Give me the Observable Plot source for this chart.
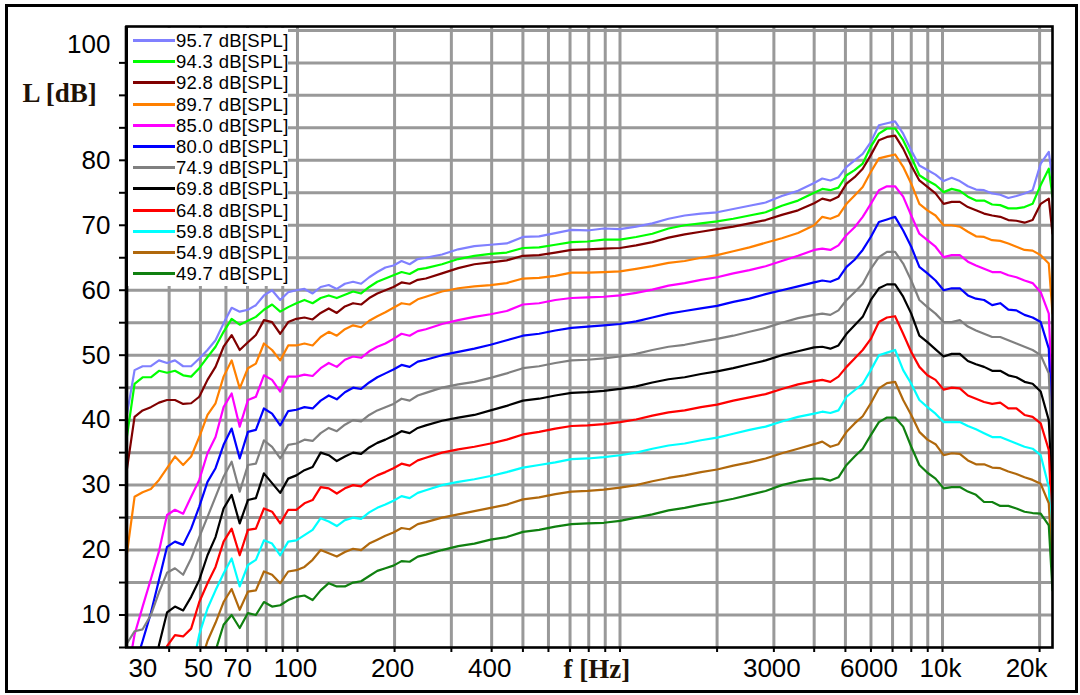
<!DOCTYPE html>
<html><head><meta charset="utf-8">
<script src="https://cdn.jsdelivr.net/npm/d3@7"></script>
<script src="https://cdn.jsdelivr.net/npm/@observablehq/plot@0.6"></script>
<style>
html,body{margin:0;padding:0;background:#fff;}
#wrap{position:relative;width:1080px;height:695px;overflow:hidden;background:#fff;font-family:"Liberation Sans",Arial,sans-serif;}
#chart{position:absolute;left:0;top:0;}
#outer{position:absolute;left:5px;top:4px;width:1073px;height:689px;border:3px solid #000;box-sizing:border-box;pointer-events:none;}
#legend{position:absolute;left:128px;top:28px;width:160px;height:258px;background:#fff;}
.row{position:absolute;left:0;height:21px;display:flex;align-items:center;}
.sw{width:42px;height:3px;margin-left:5px;flex:none;}
.lt{margin-left:1px;font-size:18.5px;color:#000;white-space:nowrap;letter-spacing:0.3px;line-height:21px;}
</style></head><body>
<div id="wrap"><div id="chart"></div><div id="legend"></div><div id="outer"></div></div>
<script>
// ---------- data ----------
const freqs = [
29.5, 31.25, 33.1, 35.1, 37.2, 39.4, 41.7, 44.2, 46.8, 49.6,
52.6, 55.7, 59.0, 62.5, 66.2, 70.2, 74.3, 78.7, 83.4, 88.4,
93.6, 99.2, 105.1, 111.4, 118.0, 125.0, 132.4, 140.3, 148.7, 157.5,
166.9, 176.8, 187.3, 198.4, 210.2, 222.7, 236.0, 250.0,
280.6, 315.0, 353.6, 396.9, 445.4, 500.0, 561.2, 630.0, 707.1, 793.7, 890.9, 1000, 1122, 1260, 1414, 1587, 1782, 2000, 2245, 2520, 2828, 3175, 3564, 4000,
4238, 4490, 4757, 5040, 5339, 5657, 5993, 6350, 6727, 7127, 7551, 8000, 8476, 8980, 9514, 10079, 10679, 11314, 11986, 12699, 13454, 14254, 15102, 16000, 16951, 17959, 19027, 20159, 21357, 21930
];

const spl957 = [
40.5, 47.7, 48.3, 48.3, 49.2, 48.8, 49.2, 48.3, 48.3, 49.5, 50.8, 52.3, 54.9, 57.3, 56.7, 57.0, 57.7, 59.2, 60.0, 58.5, 59.7, 60.0, 60.2, 59.5, 60.5, 60.8, 60.2, 61.0, 61.3, 61.0, 62.0, 62.8, 63.5, 63.8, 64.5, 64.0, 64.8, 65.0,
65.5, 66.3, 66.8, 67.0, 67.2, 68.2, 68.3, 68.8, 69.3, 69.2, 69.5, 69.4, 69.8, 70.3, 71.0, 71.5, 71.8, 72.0, 72.5, 73.0, 73.5, 74.5, 75.3, 76.5,
77.2, 76.9, 77.4, 79.0, 80.0, 81.0, 82.8, 85.4, 85.7, 86.0, 84.1, 81.5, 79.2, 78.5, 77.8, 76.8, 77.3, 76.8, 76.0, 75.5, 75.4, 74.9, 74.7, 74.2, 74.5, 74.9, 75.4, 79.5, 81.3, 76.9
];
const spl943 = [
37.0, 45.6, 46.6, 46.6, 47.6, 47.3, 47.6, 46.9, 46.7, 48.0, 49.7, 51.3, 53.6, 55.6, 54.7, 55.3, 55.9, 57.0, 57.8, 56.7, 57.4, 58.0, 58.5, 58.0, 58.8, 59.2, 58.8, 59.3, 59.8, 59.5, 60.5, 61.3, 61.8, 62.3, 62.8, 62.5, 63.2, 63.4,
64.0, 64.8, 65.3, 65.6, 65.8, 66.5, 66.6, 67.0, 67.4, 67.5, 67.8, 67.8, 68.2, 68.7, 69.5, 70.0, 70.3, 70.6, 71.0, 71.5, 72.0, 73.0, 73.8, 75.0,
75.6, 75.4, 75.8, 77.7, 78.5, 79.5, 82.1, 84.1, 84.9, 84.9, 83.1, 80.5, 77.7, 76.9, 76.2, 75.1, 75.6, 75.3, 74.4, 73.8, 73.8, 73.2, 73.1, 72.6, 72.6, 72.8, 73.3, 76.2, 78.7, 74.4
];
const spl928 = [
32.0, 40.5, 41.5, 42.0, 42.7, 43.1, 43.1, 42.5, 42.6, 43.6, 46.2, 48.2, 51.3, 53.1, 50.8, 52.0, 53.1, 55.4, 55.1, 53.3, 55.1, 55.6, 55.8, 55.5, 56.5, 57.2, 56.5, 57.5, 58.0, 57.8, 58.8, 59.5, 60.0, 60.5, 61.2, 61.0, 61.6, 61.8,
62.6, 63.4, 64.0, 64.3, 64.6, 65.3, 65.4, 65.8, 66.2, 66.3, 66.4, 66.5, 66.9, 67.4, 68.1, 68.6, 69.0, 69.4, 69.8, 70.3, 70.8, 71.6, 72.3, 73.4,
74.1, 73.8, 74.4, 76.4, 77.4, 78.7, 80.8, 83.1, 83.6, 83.8, 81.8, 79.2, 76.9, 75.9, 74.9, 73.3, 73.6, 73.6, 72.8, 72.3, 71.8, 71.5, 71.3, 70.8, 70.7, 70.4, 70.8, 73.3, 74.1, 68.7
];
const spl897 = [
19.0, 28.2, 28.9, 29.4, 30.8, 32.6, 34.4, 33.1, 34.4, 37.4, 40.8, 42.6, 46.7, 49.2, 44.9, 48.0, 48.7, 51.8, 50.8, 49.2, 51.5, 51.5, 51.8, 51.5, 52.8, 53.6, 53.0, 54.0, 54.6, 54.3, 55.3, 56.0, 56.6, 57.3, 58.0, 57.8, 58.6, 59.0,
59.8, 60.3, 60.6, 60.8, 61.1, 61.8, 61.9, 62.2, 62.7, 62.7, 62.8, 62.9, 63.3, 63.7, 64.2, 64.5, 65.0, 65.4, 66.0, 66.6, 67.3, 68.0, 68.8, 70.0,
71.3, 71.0, 71.5, 73.3, 74.6, 75.9, 78.2, 80.3, 80.6, 80.9, 79.0, 76.4, 73.3, 72.3, 71.5, 70.0, 70.0, 69.8, 69.0, 68.3, 68.2, 67.7, 67.6, 67.2, 66.7, 66.2, 66.1, 65.4, 64.1, 56.4
];
const spl850 = [
0.0, 7.0, 11.3, 15.5, 19.8, 25.4, 26.2, 25.6, 28.2, 30.8, 34.9, 37.4, 42.0, 44.1, 39.0, 43.1, 43.6, 46.9, 46.2, 44.4, 46.7, 46.7, 47.0, 46.8, 48.0, 48.8, 48.2, 49.3, 49.8, 49.6, 50.6, 51.3, 51.8, 52.5, 53.3, 53.0, 53.7, 54.0,
54.8, 55.4, 55.9, 56.3, 56.8, 57.8, 58.0, 58.5, 58.8, 58.9, 59.0, 59.2, 59.6, 60.1, 60.7, 61.1, 61.6, 62.0, 62.6, 63.1, 63.7, 64.5, 65.3, 66.2,
66.4, 66.2, 66.9, 68.5, 69.7, 71.3, 73.3, 75.4, 76.0, 76.0, 74.4, 71.5, 68.7, 67.7, 66.7, 65.1, 65.4, 65.4, 64.4, 63.8, 63.3, 62.8, 62.8, 62.3, 62.0, 61.5, 61.1, 59.7, 56.4, 42.0
];
const spl800 = [
null, 2.0, 6.0, 10.3, 15.4, 20.5, 21.3, 20.8, 23.3, 26.7, 30.5, 32.6, 36.2, 38.7, 34.1, 38.2, 38.5, 41.8, 41.0, 39.2, 41.4, 41.6, 42.0, 41.8, 43.0, 43.8, 43.2, 44.3, 45.0, 44.8, 45.8, 46.6, 47.2, 47.8, 48.5, 48.2, 49.0, 49.3,
50.0, 50.5, 51.0, 51.6, 52.3, 53.0, 53.3, 53.8, 54.2, 54.4, 54.6, 54.8, 55.2, 55.8, 56.4, 56.8, 57.2, 57.6, 58.2, 58.7, 59.4, 60.0, 60.6, 61.2,
61.5, 61.3, 61.8, 63.6, 64.7, 66.2, 68.2, 70.5, 70.9, 71.3, 69.2, 66.7, 63.6, 62.6, 61.5, 60.0, 60.3, 60.3, 59.2, 58.7, 58.5, 57.7, 58.0, 57.0, 56.9, 56.2, 55.8, 55.1, 51.0, 36.0
];
const spl749 = [
5.5, 7.5, 7.8, 10.0, 13.5, 16.5, 17.2, 16.2, 18.7, 22.0, 25.1, 28.2, 31.3, 33.6, 29.0, 33.1, 33.3, 36.9, 35.9, 34.1, 36.2, 36.4, 37.0, 36.8, 38.0, 38.8, 38.3, 39.3, 40.0, 39.8, 40.8, 41.5, 42.0, 42.5, 43.3, 43.0, 43.8, 44.2,
45.0, 45.5, 45.9, 46.5, 47.2, 48.0, 48.3, 48.8, 49.2, 49.3, 49.5, 49.8, 50.2, 50.8, 51.3, 51.6, 52.1, 52.5, 53.0, 53.6, 54.2, 55.0, 55.7, 56.2,
56.4, 56.2, 56.9, 58.5, 59.7, 61.0, 63.3, 65.1, 65.9, 65.9, 64.1, 61.5, 58.5, 57.4, 56.4, 55.1, 55.1, 55.4, 54.4, 53.8, 53.3, 52.8, 52.8, 52.3, 51.8, 51.3, 50.8, 50.0, 47.2, 33.0
];
const spl698 = [
null, null, null, -3.0, 5.4, 10.4, 11.3, 10.7, 12.8, 15.4, 19.2, 22.0, 26.4, 28.5, 24.1, 27.7, 28.0, 31.8, 30.3, 28.8, 31.0, 31.5, 32.3, 32.8, 35.0, 34.6, 33.7, 34.4, 35.0, 34.8, 35.8, 36.5, 37.0, 37.6, 38.3, 38.0, 38.8, 39.2,
39.9, 40.4, 40.8, 41.5, 42.2, 43.0, 43.3, 43.8, 44.2, 44.3, 44.5, 44.8, 45.2, 45.8, 46.3, 46.6, 47.1, 47.5, 48.0, 48.6, 49.2, 50.0, 50.6, 51.2,
51.3, 51.0, 51.5, 53.3, 54.6, 55.9, 58.5, 60.3, 60.9, 60.9, 59.0, 56.4, 53.0, 52.0, 50.9, 49.8, 50.2, 50.2, 49.1, 48.6, 48.2, 47.6, 47.6, 46.9, 46.6, 45.9, 45.6, 44.4, 40.0, 27.7
];
const spl648 = [
null, null, null, null, -3.0, 5.2, 6.9, 6.7, 7.9, 12.0, 14.9, 17.4, 21.3, 23.3, 19.2, 23.1, 23.3, 26.4, 25.9, 24.1, 26.2, 26.2, 27.2, 27.7, 29.7, 29.5, 28.7, 29.5, 30.0, 29.8, 30.8, 31.5, 32.0, 32.6, 33.3, 33.0, 33.8, 34.2,
35.0, 35.5, 35.9, 36.4, 37.0, 37.8, 38.2, 38.7, 39.1, 39.2, 39.4, 39.7, 40.1, 40.7, 41.2, 41.5, 42.0, 42.4, 43.0, 43.5, 44.0, 44.8, 45.5, 46.0,
46.2, 45.9, 46.7, 48.2, 49.5, 50.8, 52.5, 55.1, 55.8, 56.0, 53.3, 50.5, 48.2, 46.9, 46.2, 44.7, 45.0, 44.9, 43.8, 43.3, 42.8, 42.5, 42.7, 41.8, 41.8, 40.8, 40.5, 39.5, 35.4, 21.5
];
const spl598 = [
null, null, null, null, null, null, null, null, 1.0, 7.0, 11.0, 13.8, 16.4, 18.7, 14.4, 17.7, 18.5, 21.5, 21.0, 19.2, 21.3, 21.5, 22.3, 23.1, 24.9, 24.4, 23.7, 24.6, 25.0, 24.8, 25.8, 26.5, 27.0, 27.6, 28.3, 28.0, 28.8, 29.2,
30.0, 30.5, 30.9, 31.4, 32.0, 32.7, 33.1, 33.5, 34.0, 34.1, 34.3, 34.6, 35.0, 35.6, 36.1, 36.4, 36.9, 37.3, 37.9, 38.5, 39.0, 39.8, 40.5, 41.0,
41.3, 41.1, 41.5, 43.6, 44.6, 45.6, 47.7, 50.0, 50.4, 50.8, 47.7, 45.6, 43.1, 42.0, 41.0, 39.7, 39.7, 39.7, 39.1, 38.6, 38.0, 37.4, 37.4, 36.9, 36.4, 35.9, 35.6, 34.6, 29.7, 18.5
];
const spl549 = [
null, null, null, null, null, null, null, null, null, 2.0, 6.0, 8.8, 12.0, 14.0, 10.8, 13.6, 13.8, 16.7, 16.2, 14.9, 16.7, 16.9, 17.4, 18.5, 20.0, 19.5, 19.0, 19.7, 20.2, 20.0, 21.0, 21.6, 22.2, 22.7, 23.4, 23.2, 24.0, 24.3,
25.0, 25.5, 26.0, 26.5, 27.0, 27.8, 28.1, 28.6, 29.0, 29.1, 29.3, 29.6, 30.0, 30.6, 31.1, 31.5, 32.0, 32.4, 33.0, 33.5, 34.1, 34.9, 35.6, 36.3,
36.7, 35.9, 36.3, 38.2, 39.5, 40.6, 42.6, 44.9, 45.7, 45.9, 43.1, 40.8, 38.2, 37.0, 36.3, 34.6, 34.9, 34.8, 33.8, 33.2, 33.2, 32.7, 32.6, 32.1, 31.7, 31.2, 30.8, 30.2, 27.2, 16.4
];
const spl497 = [
null, null, null, null, null, null, null, null, null, null, null, 4.5, 8.5, 10.0, 8.0, 10.3, 10.0, 12.0, 11.3, 11.5, 12.3, 12.8, 13.0, 12.3, 13.8, 14.9, 14.4, 14.4, 15.0, 15.2, 16.0, 16.8, 17.2, 17.6, 18.3, 18.2, 19.0, 19.3,
20.0, 20.6, 21.0, 21.6, 22.0, 22.8, 23.1, 23.6, 24.0, 24.1, 24.2, 24.5, 25.0, 25.5, 26.1, 26.5, 27.0, 27.4, 27.9, 28.5, 29.1, 30.0, 30.6, 31.0,
31.0, 30.7, 31.2, 33.1, 34.4, 35.6, 37.7, 39.7, 40.4, 40.4, 39.0, 35.9, 33.1, 31.9, 31.0, 29.5, 29.7, 29.7, 29.0, 28.5, 27.4, 27.4, 26.8, 26.8, 26.4, 25.9, 25.7, 25.6, 23.8, 13.8
];

const seriesLabels = ["95.7 dB[SPL]", "94.3 dB[SPL]", "92.8 dB[SPL]", "89.7 dB[SPL]", "85.0 dB[SPL]", "80.0 dB[SPL]",
  "74.9 dB[SPL]", "69.8 dB[SPL]", "64.8 dB[SPL]", "59.8 dB[SPL]", "54.9 dB[SPL]", "49.7 dB[SPL]"];
const seriesValues = [spl957, spl943, spl928, spl897, spl850, spl800, spl749, spl698, spl648, spl598, spl549, spl497];
const seriesColors = ["#8080ff", "#00ff00", "#800000", "#ff8000", "#ff00ff", "#0000ff",
  "#808080", "#000000", "#ff0000", "#00ffff", "#b0680c", "#108010"];

const xDomain = [29.5, 21930];
const yDomain = [5, 100.6];
const xGrid = [40, 50, 60, 70, 80, 90, 100, 200, 300, 400, 500, 600, 700, 800, 900, 1000,
  2000, 3000, 4000, 5000, 6000, 7000, 8000, 9000, 10000, 20000];
const yGrid = [10, 15, 20, 25, 30, 35, 40, 45, 50, 55, 60, 65, 70, 75, 80, 85, 90, 95, 100];
const yTickMarks = [5, 10, 15, 20, 25, 30, 35, 40, 45, 50, 55, 60, 65, 70, 75, 80, 85, 90, 95];
const yLabelValues = [10, 20, 30, 40, 50, 60, 70, 80];
const yTopLabel = [100];
const xTickValues = [30, 50, 70, 100, 200, 400, 3000, 6000, 10000, 20000];
const xTickLabels = ["30", "50", "70", "100", "200", "400", "3000", "6000", "10k", "20k"];

// ---------- checks ----------
seriesValues.forEach((s, k) => {
  if (s.length !== freqs.length) throw new Error("length mismatch " + seriesLabels[k] + ": " + s.length + " vs " + freqs.length);
});

// ---------- chart ----------
const sans = '"Liberation Sans", Arial, sans-serif';
const serif = '"Liberation Serif", "Times New Roman", serif';
const gridColor = "#999999";
const lbl = (i) => xTickLabels[i];
const xv = (i) => xTickValues[i];
const idxMain = [1, 3, 4, 5, 6, 7, 8];
const tickFont = 26;

const lineMarks = seriesValues.map((vals, k) =>
  Plot.line(freqs.map((f, i) => ({f, L: vals[i]})), {
    x: "f", y: "L", stroke: seriesColors[k], strokeWidth: 2.2, clip: true, curve: "linear"
  })
);

const chart = Plot.plot({
  width: 1080, height: 695,
  marginLeft: 126, marginRight: 28, marginTop: 26, marginBottom: 48,
  x: {type: "log", domain: xDomain},
  y: {domain: yDomain},
  style: {fontFamily: sans, background: "transparent", overflow: "visible", color: "#000"},
  marks: [
    Plot.ruleY(yGrid, {stroke: gridColor, strokeWidth: 3}),
    Plot.ruleX(xGrid, {stroke: gridColor, strokeWidth: 3}),
    ...lineMarks,
    Plot.frame({stroke: "#000", strokeWidth: 2.6}),
    Plot.ruleX([xDomain[0]], {stroke: "#000", strokeWidth: 3.6}),
    Plot.axisY({ticks: yTickMarks, tickSize: 7, tickFormat: () => "", stroke: "#000", strokeWidth: 2, label: null}),
    Plot.axisY({ticks: yLabelValues, tickSize: 0, tickPadding: 16, fontSize: tickFont, fill: "#000", label: null, tickFormat: d => String(d)}),
    Plot.text(yTopLabel, {y: d => d, text: d => String(d), frameAnchor: "left", dx: -16, dy: 14, textAnchor: "end", fontSize: tickFont, fill: "#000"}),
    Plot.axisX({ticks: xGrid, tickSize: 5, tickFormat: () => "", stroke: "#000", strokeWidth: 2, label: null}),
    Plot.text(idxMain, {x: xv, text: lbl, frameAnchor: "bottom", dy: 21, dx: -2, fontSize: tickFont, lineAnchor: "middle", fill: "#000"}),
    Plot.text([0], {x: xv, text: lbl, frameAnchor: "bottom", dy: 21, dx: 14, fontSize: tickFont, lineAnchor: "middle", fill: "#000"}),
    Plot.text([2], {x: xv, text: lbl, frameAnchor: "bottom", dy: 21, dx: -10, fontSize: tickFont, lineAnchor: "middle", fill: "#000"}),
    Plot.text([9], {x: xv, text: lbl, frameAnchor: "bottom", dy: 21, dx: -13, fontSize: tickFont, lineAnchor: "middle", fill: "#000"}),
    Plot.text(["L [dB]"], {text: d => d, frameAnchor: "top-left", dx: -104, dy: 67, textAnchor: "start", lineAnchor: "middle",
      fontFamily: serif, fontWeight: "bold", fontSize: 27, fill: "#1e1206"}),
    Plot.text(["f [Hz]"], {text: d => d, frameAnchor: "bottom-left", dx: 437, dy: 22, textAnchor: "start", lineAnchor: "middle",
      fontFamily: serif, fontWeight: "bold", fontSize: 27, fill: "#1e1206"})
  ]
});
document.getElementById("chart").appendChild(chart);

// ---------- legend ----------
const legend = document.getElementById("legend");
seriesLabels.forEach((t, k) => {
  const row = document.createElement("div");
  row.className = "row";
  row.style.top = (2 + k * 21.2) + "px";
  const sw = document.createElement("span");
  sw.className = "sw";
  sw.style.background = seriesColors[k];
  const tx = document.createElement("span");
  tx.className = "lt";
  tx.textContent = t;
  row.appendChild(sw);
  row.appendChild(tx);
  legend.appendChild(row);
});
</script>
</body></html>
